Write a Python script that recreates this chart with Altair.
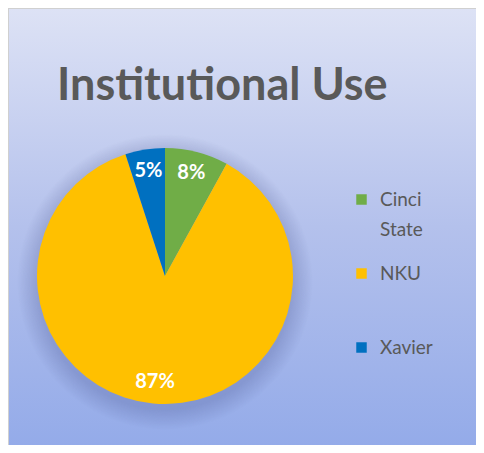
import altair as alt
import pandas as pd

categories = ["Cinci State", "NKU", "Xavier"]
shares = [8, 87, 5]
labels = ["8%", "87%", "5%"]
colors = ["#70AD47", "#FFC000", "#0070C0"]
title_text = "Institutional Use"

df = pd.DataFrame({
    "category": categories,
    "share": shares,
    "label": labels,
    "order": list(range(len(categories))),
})

W, H = 468, 437
CX, CY, R = 157, 268, 128

one = alt.Data(values=[{"k": 1}])

bg = alt.Chart(one).mark_rect(
    fill=alt.Gradient(
        gradient="linear",
        stops=[alt.GradientStop(color="#dde2f5", offset=0),
               alt.GradientStop(color="#b4c1ec", offset=0.5),
               alt.GradientStop(color="#94abe9", offset=1)],
        x1=0, x2=0, y1=0, y2=1),
).encode(x=alt.value(0), x2=alt.value(W), y=alt.value(0), y2=alt.value(H))

top_edge = alt.Chart(one).mark_rule(color="#d0d0d0", strokeWidth=2).encode(
    x=alt.value(0), x2=alt.value(W), y=alt.value(0))
left_edge = alt.Chart(one).mark_rule(color="#d0d0d0", strokeWidth=2).encode(
    x=alt.value(0), y=alt.value(0), y2=alt.value(H))

shadow = alt.Chart(one).mark_arc(
    radius=148, theta=0, theta2=6.2832,
    fill=alt.Gradient(
        gradient="radial",
        stops=[alt.GradientStop(color="rgba(50,60,120,0.22)", offset=0),
               alt.GradientStop(color="rgba(50,60,120,0.22)", offset=0.86),
               alt.GradientStop(color="rgba(50,60,120,0)", offset=1)],
        x1=0.5, y1=0.5, r1=0, x2=0.5, y2=0.5, r2=0.5),
).encode(x=alt.value(CX), y=alt.value(CY + 6))

base = alt.Chart(df).encode(
    theta=alt.Theta("share:Q", stack=True),
    order=alt.Order("order:Q"),
)

pie = base.mark_arc(radius=R).encode(
    color=alt.Color(
        "category:N",
        scale=alt.Scale(domain=categories, range=colors),
        sort=categories,
        legend=alt.Legend(
            title=None, orient="none", legendX=344, legendY=182,
            symbolType="square", symbolSize=110, symbolStrokeWidth=0,
            symbolOpacity=1,
            labelFont="Lato", labelFontSize=19, labelColor="#595959",
            labelOffset=9, labelLimit=0, rowPadding=24,
            labelExpr="datum.label == 'Cinci State' ? ['Cinci', 'State'] : (datum.label == 'NKU' ? ['NKU', ' '] : datum.label)",
        ),
    ),
    x=alt.value(CX), y=alt.value(CY),
)

pct = base.mark_text(
    radius=106, font="Lato", fontWeight="bold", fontSize=20, color="white"
).encode(text="label:N", x=alt.value(CX), y=alt.value(CY))

title = alt.Chart(alt.Data(values=[{"t": title_text}])).mark_text(
    font="Lato", fontWeight="bold", fontSize=45, color="#595959",
    align="left", baseline="alphabetic",
).encode(x=alt.value(49), y=alt.value(92), text="t:N")

chart = alt.layer(bg, top_edge, left_edge, shadow, pie, pct, title).properties(
    width=W, height=H, padding=0,
    autosize=alt.AutoSizeParams(type="none"),
).configure_view(strokeWidth=0).configure(
    background="white",
    style={"guide-label": {"lineHeight": 30}},
)

chart.save("out.html", embed_options={"renderer": "svg", "actions": False})
